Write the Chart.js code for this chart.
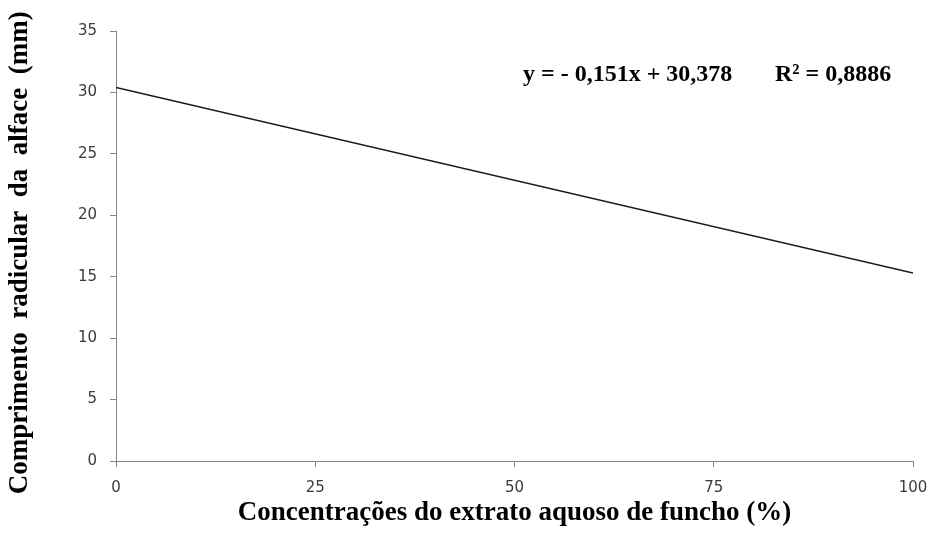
<!DOCTYPE html>
<html lang="pt">
  <head>
    <meta charset="utf-8" />
    <title>Comprimento radicular da alface</title>
    <script src="https://cdn.jsdelivr.net/npm/chart.js@4.4.1/dist/chart.umd.min.js"></script>
    <style>
      * {
        margin: 0;
        padding: 0;
      }
      body {
        background: #ffffff;
      }
      .wrapper {
        width: 928px;
        height: 551px;
      }
    </style>
  </head>
  <body>
    <div class="wrapper">
      <canvas id="chart" width="928" height="551"></canvas>
    </div>
    <script>
      // Concentrations (%) and fitted root length (mm)
      const concentracoes = [0, 100];
      const comprimento = [30.4, 15.3];
      const xTicks = [0, 25, 50, 75, 100];
      const yTicks = [0, 5, 10, 15, 20, 25, 30, 35];
      const equacao = "y = - 0,151x + 30,378";
      const r2 = "R² = 0,8886";

      const axisColor = "#868686";
      const tickFont = { family: "DejaVu Sans", size: 15 };
      const titleFont = { family: "Liberation Serif", size: 27, weight: "bold" };

      // Equation text over the plot
      const equationPlugin = {
        id: "equation",
        afterDraw(chart) {
          const ctx = chart.ctx;
          const area = chart.chartArea;
          ctx.save();
          ctx.font = "bold 24px 'Liberation Serif'";
          ctx.fillStyle = "#000";
          ctx.textBaseline = "middle";
          ctx.fillText(equacao, area.left + 407, area.top + 44);
          ctx.fillText(r2, area.left + 659, area.top + 44);
          ctx.restore();
        }
      };

      new Chart(document.getElementById("chart"), {
        type: "scatter",
        data: {
          datasets: [
            {
              data: concentracoes.map((x, i) => ({ x: x, y: comprimento[i] })),
              showLine: true,
              borderColor: "#1a1a1a",
              borderWidth: 1.5,
              pointRadius: 0,
              fill: false
            }
          ]
        },
        plugins: [equationPlugin],
        options: {
          responsive: false,
          animation: false,
          layout: { padding: { top: 31, right: 15, left: 0, bottom: 0 } },
          plugins: {
            legend: { display: false },
            tooltip: { enabled: false }
          },
          scales: {
            x: {
              type: "linear",
              min: 0,
              max: 100,
              afterBuildTicks: (axis) => {
                axis.ticks = xTicks.map((v) => ({ value: v }));
              },
              afterFit: (axis) => {
                axis.height = 90;
                axis.paddingLeft = 0;
                axis.paddingRight = 0;
              },
              border: { color: axisColor, width: 1 },
              grid: {
                drawOnChartArea: false,
                drawTicks: true,
                tickLength: 6,
                tickColor: axisColor
              },
              ticks: {
                color: "#3a3a3a",
                font: tickFont,
                padding: 12,
                maxRotation: 0
              },
              title: {
                display: true,
                text: "Concentrações do extrato aquoso de funcho (%)",
                color: "#000",
                font: titleFont,
                padding: { top: 0, bottom: 22 }
              }
            },
            y: {
              type: "linear",
              min: 0,
              max: 35,
              afterBuildTicks: (axis) => {
                axis.ticks = yTicks.map((v) => ({ value: v }));
              },
              afterFit: (axis) => {
                axis.width = 116;
              },
              border: { color: axisColor, width: 1 },
              grid: {
                drawOnChartArea: false,
                drawTicks: true,
                tickLength: 6,
                tickColor: axisColor
              },
              ticks: {
                color: "#3a3a3a",
                font: tickFont,
                padding: 13
              },
              title: {
                display: true,
                // trailing spaces nudge the centred title down a little
                text: "Comprimento  radicular  da  alface  (mm)  ",
                color: "#000",
                font: titleFont,
                padding: { top: 4, bottom: 0 }
              }
            }
          }
        }
      });
    </script>
  </body>
</html>
